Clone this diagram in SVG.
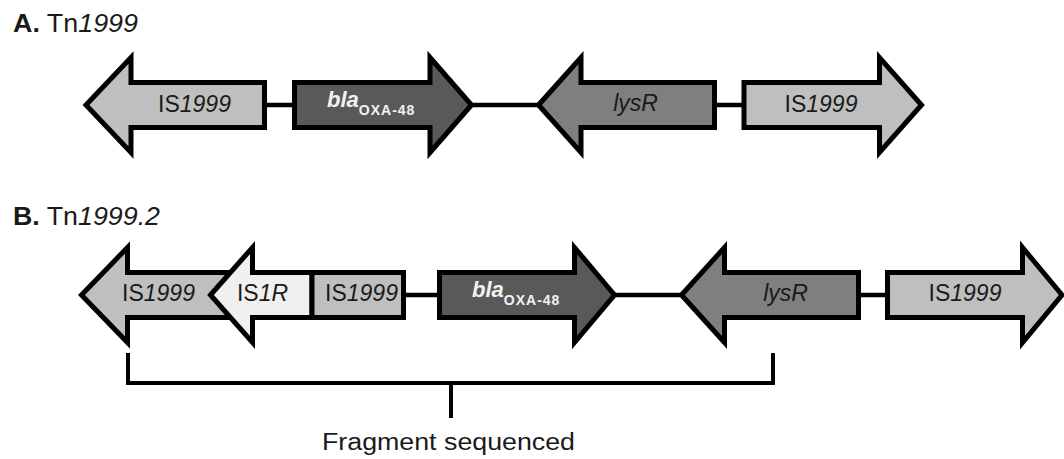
<svg xmlns="http://www.w3.org/2000/svg" width="1064" height="459" viewBox="0 0 1064 459">
  <style>
    .gene { stroke: #000; stroke-width: 5; stroke-linejoin: miter; stroke-miterlimit: 10; }
    .is1999 { fill: #bfbfbf; }
    .bla { fill: #595959; }
    .lysr { fill: #7f7f7f; }
    .is1r { fill: #f0f0f0; }
    .link { stroke: #000; stroke-width: 4.5; fill: none; }
    .bracket { stroke: #000; stroke-width: 4; fill: none; stroke-linecap: square; }
    .title { font-family: "Liberation Sans", Arial, sans-serif; font-size: 26px; fill: #1a1a1a; }
    .lab { font-family: "Liberation Sans", Arial, sans-serif; font-size: 23px; fill: #1a1a1a; text-anchor: middle; }
    .blalab { font-family: "Liberation Sans", Arial, sans-serif; font-weight: bold; fill: #f2f2f2; }
    .it { font-style: italic; }
    .caption { font-family: "Liberation Sans", Arial, sans-serif; font-size: 23px; fill: #1a1a1a; }
  </style>

  <!-- panel titles -->
  <text class="title" x="13" y="32" textLength="125" lengthAdjust="spacingAndGlyphs"><tspan font-weight="bold">A.</tspan> Tn<tspan class="it">1999</tspan></text>
  <text class="title" x="13" y="225" textLength="147" lengthAdjust="spacingAndGlyphs"><tspan font-weight="bold">B.</tspan> Tn<tspan class="it">1999.2</tspan></text>

  <!-- connectors: intergenic lines and sequenced-fragment bracket -->
  <g id="connectors">
    <line class="link" x1="264" y1="105" x2="295" y2="105"/>
    <line class="link" x1="471" y1="105" x2="539" y2="105"/>
    <line class="link" x1="714" y1="105" x2="745" y2="105"/>
    <line class="link" x1="403" y1="295" x2="440" y2="295"/>
    <line class="link" x1="614" y1="295" x2="682" y2="295"/>
    <line class="link" x1="858" y1="295" x2="888" y2="295"/>
    <path class="bracket" d="M128,355 V383 H773 V355 M451,383 V416"/>
  </g>

  <!-- Panel A: Tn1999 -->
  <g id="a-is1999-left">
    <polygon class="gene is1999" points="86,105 131,57.5 131,82.5 264.5,82.5 264.5,127.5 131,127.5 131,152.5"/>
    <text class="lab" x="194.5" y="112">IS<tspan class="it">1999</tspan></text>
  </g>
  <g id="a-bla-oxa48">
    <polygon class="gene bla" points="294.5,82.5 430,82.5 430,57.5 471.5,105 430,152.5 430,127.5 294.5,127.5"/>
    <text class="blalab" x="327" y="107"><tspan class="it" font-size="22">bla</tspan><tspan font-size="14" letter-spacing="1" dy="8">OXA-48</tspan></text>
  </g>
  <g id="a-lysr">
    <polygon class="gene lysr" points="538.5,105 581,57.5 581,82.5 714.5,82.5 714.5,127.5 581,127.5 581,152.5"/>
    <text class="lab it" x="635.5" y="111">lysR</text>
  </g>
  <g id="a-is1999-right">
    <polygon class="gene is1999" points="744,82.5 879.5,82.5 879.5,57.5 921.5,105 879.5,152.5 879.5,127.5 744,127.5"/>
    <text class="lab" x="821" y="112">IS<tspan class="it">1999</tspan></text>
  </g>

  <!-- Panel B: Tn1999.2 -->
  <g id="b-is1999-left">
    <polygon class="gene is1999" points="81.5,295 127.5,247.5 127.5,272.5 280,272.5 280,317.5 127.5,317.5 127.5,342.5"/>
    <text class="lab" x="158.5" y="301">IS<tspan class="it">1999</tspan></text>
  </g>
  <g id="b-is1r">
    <polygon class="gene is1r" points="210.5,295 252.5,247.5 252.5,272.5 312,272.5 312,317.5 252.5,317.5 252.5,342.5"/>
    <text class="lab" x="262.5" y="301">IS<tspan class="it">1R</tspan></text>
  </g>
  <g id="b-is1999-fragment">
    <rect class="gene is1999" x="312" y="272.5" width="91.5" height="45"/>
    <text class="lab" x="361.5" y="301">IS<tspan class="it">1999</tspan></text>
  </g>
  <g id="b-bla-oxa48">
    <polygon class="gene bla" points="439.5,272.5 574.5,272.5 574.5,247.5 614.5,295 574.5,342.5 574.5,317.5 439.5,317.5"/>
    <text class="blalab" x="472" y="297"><tspan class="it" font-size="22">bla</tspan><tspan font-size="14" letter-spacing="1" dy="8">OXA-48</tspan></text>
  </g>
  <g id="b-lysr">
    <polygon class="gene lysr" points="681.5,295 724.5,247.5 724.5,272.5 858.5,272.5 858.5,317.5 724.5,317.5 724.5,342.5"/>
    <text class="lab it" x="785.5" y="301">lysR</text>
  </g>
  <g id="b-is1999-right">
    <polygon class="gene is1999" points="887.5,272.5 1022.5,272.5 1022.5,247.5 1062,295 1022.5,342.5 1022.5,317.5 887.5,317.5"/>
    <text class="lab" x="965" y="301">IS<tspan class="it">1999</tspan></text>
  </g>

  <!-- bracket caption -->
  <text class="caption" x="322" y="450" textLength="253" lengthAdjust="spacingAndGlyphs">Fragment sequenced</text>
</svg>
